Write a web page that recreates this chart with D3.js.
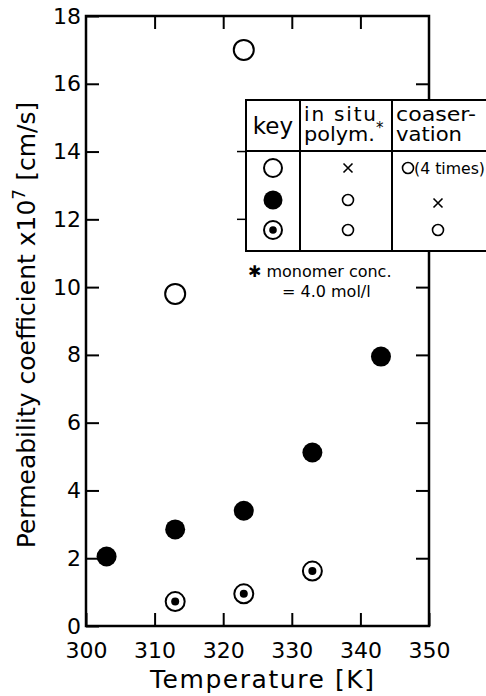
<!DOCTYPE html>
<html>
<head>
<meta charset="utf-8">
<script src="https://cdn.jsdelivr.net/npm/d3@7"></script>
<style>
  body { margin: 0; background: #fff; }
  text { font-family: "DejaVu Sans", sans-serif; fill: #000; }
</style>
</head>
<body>
<svg id="chart"></svg>
<script>

// data
var tempsOpen = [313, 323]
var valsOpen = [9.8, 17.0]

var tempsFilled = [303, 313, 323, 333, 343]
var valsFilled = [2.05, 2.85, 3.4, 5.12, 7.95]

var tempsDot = [313, 323, 333]
var valsDot = [0.72, 0.95, 1.62]

var xTicks = [300, 310, 320, 330, 340, 350]
var yTicks = [0, 2, 4, 6, 8, 10, 12, 14, 16, 18]

var W = 486, H = 696
var pLeft = 86, pRight = 429, pTop = 16, pBottom = 626

var svg = d3.select("#chart")
    .attr("width", W)
    .attr("height", H)

var xScale = d3.scaleLinear()
    .domain([300, 350])
    .range([pLeft, pRight])

var yScale = d3.scaleLinear()
    .domain([0, 18])
    .range([pBottom, pTop])

var tick = 13

// axes, ticks pointing inward on all four sides
var x_axis = d3.axisBottom(xScale).tickValues(xTicks).tickSize(-tick).tickPadding(16).tickFormat(d3.format("d"))
var y_axis = d3.axisLeft(yScale).tickValues(yTicks).tickSize(-tick).tickPadding(5).tickFormat(d3.format("d"))
var x_top = d3.axisTop(xScale).tickValues(xTicks.slice(1, -1)).tickSize(-tick).tickFormat("")
var y_right = d3.axisRight(yScale).tickValues(yTicks.slice(1, -1)).tickSize(-tick).tickFormat("")

function styleAxis(g){
    g.select(".domain").remove()
    g.selectAll("line").attr("stroke", "#000").attr("stroke-width", 2)
    g.selectAll("text").style("font-size", "22px").attr("fill", "#000")
}

svg.append("g").attr("transform", "translate(0," + pBottom + ")").call(x_axis).call(styleAxis)
svg.append("g").attr("transform", "translate(" + pLeft + ",0)").call(y_axis).call(styleAxis)
svg.append("g").attr("transform", "translate(0," + pTop + ")").call(x_top).call(styleAxis)
svg.append("g").attr("transform", "translate(" + pRight + ",0)").call(y_right).call(styleAxis)

svg.append("rect")
    .attr("x", pLeft).attr("y", pTop)
    .attr("width", pRight - pLeft).attr("height", pBottom - pTop)
    .attr("fill", "none").attr("stroke", "#000").attr("stroke-width", 2.5)

// axis titles
svg.append("text")
    .attr("x", 262).attr("y", 688)
    .attr("text-anchor", "middle")
    .style("font-size", "25px")
    .attr("textLength", 224)
    .attr("lengthAdjust", "spacing")
    .text("Temperature [K]")

var ytitle = svg.append("text")
    .attr("transform", "translate(35,325) rotate(-90)")
    .attr("text-anchor", "middle")
    .style("font-size", "25px")
ytitle.append("tspan").text("Permeability coefficient x10")
ytitle.append("tspan").attr("dy", -10).style("font-size", "17px").text("7")
ytitle.append("tspan").attr("dy", 10).text(" [cm/s]")

// data points
var r = 10
svg.selectAll(".open").data(tempsOpen).enter().append("circle")
    .attr("class", "open")
    .attr("cx", function(d){ return xScale(d) })
    .attr("cy", function(d, i){ return yScale(valsOpen[i]) })
    .attr("r", r)
    .attr("fill", "#fff").attr("stroke", "#000").attr("stroke-width", 2)

svg.selectAll(".filled").data(tempsFilled).enter().append("circle")
    .attr("class", "filled")
    .attr("cx", function(d){ return xScale(d) })
    .attr("cy", function(d, i){ return yScale(valsFilled[i]) })
    .attr("r", r)
    .attr("fill", "#000")

var dots = svg.selectAll(".dot").data(tempsDot).enter().append("g")
    .attr("class", "dot")
    .attr("transform", function(d, i){ return "translate(" + xScale(d) + "," + yScale(valsDot[i]) + ")" })
dots.append("circle").attr("r", 9.5).attr("fill", "#fff").attr("stroke", "#000").attr("stroke-width", 2)
dots.append("circle").attr("r", 4).attr("fill", "#000")

// key table (runs past the right edge of the page)
var tb = svg.append("g")
var tL = 246, tT = 100, tB = 251, tH = 151, c1 = 300, c2 = 392

// right axis ticks that show up on the table's left edge
tb.selectAll(".stub").data([12, 14]).enter().append("line")
    .attr("class", "stub")
    .attr("x1", tL - 9).attr("x2", tL)
    .attr("y1", function(d){ return yScale(d) }).attr("y2", function(d){ return yScale(d) })
    .attr("stroke", "#000").attr("stroke-width", 1.5)

tb.append("rect")
    .attr("x", tL).attr("y", tT).attr("width", 300).attr("height", tB - tT)
    .attr("fill", "#fff").attr("stroke", "#000").attr("stroke-width", 2)
tb.append("line").attr("x1", tL).attr("x2", 500).attr("y1", tH).attr("y2", tH).attr("stroke", "#000").attr("stroke-width", 2)
tb.append("line").attr("x1", c1).attr("x2", c1).attr("y1", tT).attr("y2", tB).attr("stroke", "#000").attr("stroke-width", 2)
tb.append("line").attr("x1", c2).attr("x2", c2).attr("y1", tT).attr("y2", tB).attr("stroke", "#000").attr("stroke-width", 2)

tb.append("text").attr("x", 273).attr("y", 134).attr("text-anchor", "middle").style("font-size", "23px").text("key")
tb.append("text").attr("x", 304).attr("y", 121).style("font-size", "20px").attr("textLength", 72).attr("lengthAdjust", "spacing").text("in situ")
tb.append("text").attr("x", 304).attr("y", 141).style("font-size", "20px").attr("textLength", 71).attr("lengthAdjust", "spacingAndGlyphs").text("polym.")
tb.append("text").attr("x", 376).attr("y", 133).style("font-size", "15px").text("*")
tb.append("text").attr("x", 396).attr("y", 121).style("font-size", "20px").attr("textLength", 80).attr("lengthAdjust", "spacingAndGlyphs").text("coaser-")
tb.append("text").attr("x", 396).attr("y", 141).style("font-size", "20px").attr("textLength", 66).attr("lengthAdjust", "spacingAndGlyphs").text("vation")

var rowY = [168, 200, 230]
var keyX = 273, col2X = 348, col3X = 438

// key symbols
tb.append("circle").attr("cx", keyX).attr("cy", rowY[0]).attr("r", 9).attr("fill", "#fff").attr("stroke", "#000").attr("stroke-width", 2)
tb.append("circle").attr("cx", keyX).attr("cy", rowY[1]).attr("r", 9.5).attr("fill", "#000")
tb.append("circle").attr("cx", keyX).attr("cy", rowY[2]).attr("r", 9).attr("fill", "#fff").attr("stroke", "#000").attr("stroke-width", 2)
tb.append("circle").attr("cx", keyX).attr("cy", rowY[2]).attr("r", 3.8).attr("fill", "#000")

function cross(x, y){
    tb.append("path")
        .attr("d", "M" + (x - 4.5) + "," + (y - 4.5) + "L" + (x + 4.5) + "," + (y + 4.5) + "M" + (x + 4.5) + "," + (y - 4.5) + "L" + (x - 4.5) + "," + (y + 4.5))
        .attr("stroke", "#000").attr("stroke-width", 1.6)
}
function ring(x, y){
    tb.append("circle").attr("cx", x).attr("cy", y).attr("r", 5.5).attr("fill", "none").attr("stroke", "#000").attr("stroke-width", 1.6)
}

cross(col2X, rowY[0])
ring(col2X, rowY[1])
ring(col2X, rowY[2])

ring(408, rowY[0])
tb.append("text").attr("x", 414).attr("y", rowY[0] + 6).style("font-size", "16px").attr("textLength", 71).attr("lengthAdjust", "spacingAndGlyphs").text("(4 times)")
cross(col3X, rowY[1] + 3)
ring(col3X, rowY[2])

// footnote
svg.append("text").attr("x", 248).attr("y", 277).style("font-size", "16px").text("\u2731 monomer conc.")
svg.append("text").attr("x", 282).attr("y", 297).style("font-size", "16px").text("= 4.0 mol/l")

</script>
</body>
</html>
